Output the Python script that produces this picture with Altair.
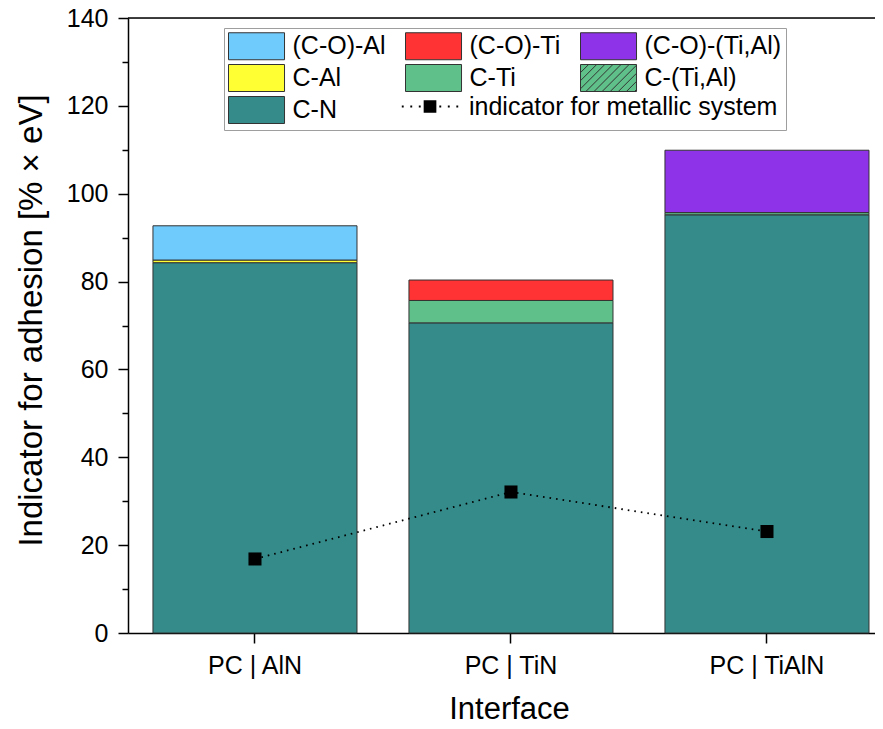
import altair as alt
import pandas as pd

# ---- data ----
interfaces = ["PC | AlN", "PC | TiN", "PC | TiAlN"]
cn_values = [84.3, 70.6, 95.2]
metal_names = ["C-Al", "C-Ti", "C-(Ti,Al)"]
metal_values = [0.6, 5.1, 0.5]
oxide_names = ["(C-O)-Al", "(C-O)-Ti", "(C-O)-(Ti,Al)"]
oxide_values = [7.8, 4.65, 14.2]
indicator_values = [16.85, 32.1, 23.1]

legend_order = ["(C-O)-Al", "(C-O)-Ti", "(C-O)-(Ti,Al)", "C-Al", "C-Ti", "C-(Ti,Al)", "C-N"]
legend_colors = ["#70CBFD", "#FF3333", "#8E33E8", "#FFFF33", "#60C08A", "#60C08A", "#348B8A"]
indicator_label = "indicator for metallic system"

rows = []
for i, iface in enumerate(interfaces):
    rows.append({"interface": iface, "component": "C-N", "value": cn_values[i], "layer": 0})
    rows.append({"interface": iface, "component": metal_names[i], "value": metal_values[i], "layer": 1})
    rows.append({"interface": iface, "component": oxide_names[i], "value": oxide_values[i], "layer": 2})
bars_df = pd.DataFrame(rows)

ind_df = pd.DataFrame({"interface": interfaces, "indicator": indicator_values,
                       "series": [indicator_label] * len(interfaces)})

# ---- legend symbol shapes (unit = 13.5 px, symbol spans x -1..3.15, y -1..1) ----
XR = 3.15
rect_path = "M-1,-1H%.2fV1H-1Z" % XR
hatch = [rect_path]
c = -3.0
while c < XR:
    xs = max(c, -1.0)
    xe = min(c + 2.0, XR)
    if xe > xs + 1e-6:
        hatch.append("M%.3f,%.3fL%.3f,%.3f" % (xs, 1 - (xs - c), xe, 1 - (xe - c)))
    c += 0.6
hatch_path = " ".join(hatch)
shape_range = [rect_path, rect_path, rect_path, rect_path, rect_path, hatch_path, rect_path]

mid = (XR - 1) / 2
ind_parts = []
for d in [-2.02, -1.39, -0.76, 0.76, 1.39, 2.02]:
    ind_parts.append("M%.3f,-0.07H%.3fV0.07H%.3fZ" % (mid + d - 0.07, mid + d + 0.07, mid + d - 0.07))
ind_parts.append("M%.3f,-0.47H%.3fV0.47H%.3fZ" % (mid - 0.47, mid + 0.47, mid - 0.47))
ind_path = " ".join(ind_parts)

FONT = "Liberation Sans"
W, H = 747, 615
SYM = 729

x_scale = alt.Scale(domain=interfaces, paddingInner=0.203, paddingOuter=0.0605, align=0.806)
y_scale = alt.Scale(domain=[0, 140], nice=False)

x_axis = alt.Axis(title="Interface", labelAngle=0, tickSize=10, tickWidth=1.5, tickColor="black",
                  domainColor="black", domainWidth=1.5, labelFontSize=25, titleFontSize=31,
                  labelPadding=10, titlePadding=16, titleX=381, labelColor="black",
                  titleColor="black", titleFontWeight="normal", grid=False,
                  labelFont=FONT, titleFont=FONT)
y_axis = alt.Axis(title="Indicator for adhesion [% × eV]", values=list(range(0, 141, 10)),
                  labelExpr="datum.value % 20 === 0 ? datum.label : ''",
                  tickSize={"condition": {"test": "datum.value % 20 === 0", "value": 10}, "value": 6},
                  tickWidth=1.5, tickColor="black", domainColor="black", domainWidth=1.5,
                  labelFontSize=25, titleFontSize=33, labelPadding=10, titlePadding=18,
                  titleY=302, labelColor="black", titleColor="black", titleFontWeight="normal",
                  grid=False, labelFont=FONT, titleFont=FONT)

legend1 = alt.Legend(orient="none", legendX=96, legendY=10, columns=3, direction="horizontal",
                     title=None, symbolSize=SYM, labelFontSize=25, labelFont=FONT,
                     labelColor="black", symbolStrokeWidth=1,
                     strokeColor="#9E9E9E", padding=4, rowPadding=0, columnPadding=17,
                     labelOffset=36.5, labelLimit=400, symbolOpacity=1)

bars = alt.Chart(bars_df).mark_bar(stroke="#333333", strokeWidth=1, opacity=1).encode(
    x=alt.X("interface:N", scale=x_scale, axis=x_axis),
    y=alt.Y("value:Q", stack="zero", scale=y_scale, axis=y_axis),
    color=alt.Color("component:N", scale=alt.Scale(domain=legend_order, range=legend_colors),
                    legend=legend1),
    order=alt.Order("layer:Q"),
)

shape_holder = alt.Chart(pd.DataFrame({"component": pd.Series([], dtype=str)})).mark_point(
    filled=True, stroke="#333333", strokeWidth=1).encode(
    color=alt.Color("component:N", scale=alt.Scale(domain=legend_order, range=legend_colors),
                    legend=legend1),
    shape=alt.Shape("component:N", scale=alt.Scale(domain=legend_order, range=shape_range),
                    legend=legend1),
)

top_rule = alt.Chart(pd.DataFrame({"v": [140]})).mark_rule(color="black", strokeWidth=1.5).encode(
    y=alt.Y("v:Q")
)

line = alt.Chart(ind_df).mark_line(color="black", strokeDash=[1.6, 5], strokeWidth=1.8).encode(
    x=alt.X("interface:N"),
    y=alt.Y("indicator:Q"),
)

legend2 = alt.Legend(orient="none", legendX=274, legendY=75, title=None, symbolType=ind_path,
                     symbolSize=SYM, labelFontSize=25, labelFont=FONT, labelColor="black",
                     symbolStrokeWidth=0, labelOffset=40, labelLimit=500, padding=0)

points = alt.Chart(ind_df).mark_point(shape="square", filled=True, size=170, opacity=1).encode(
    x=alt.X("interface:N"),
    y=alt.Y("indicator:Q"),
    fill=alt.Fill("series:N", scale=alt.Scale(domain=[indicator_label], range=["black"]),
                  legend=legend2),
)

chart = alt.layer(bars, shape_holder, top_rule, line, points).properties(
    width=W, height=H,
    autosize=alt.AutoSizeParams(type="none"),
    padding={"left": 120, "top": 10, "right": 0, "bottom": 96},
).configure_view(stroke=None).configure(font=FONT)

chart.save("out.html", embed_options={"renderer": "svg", "actions": False})
